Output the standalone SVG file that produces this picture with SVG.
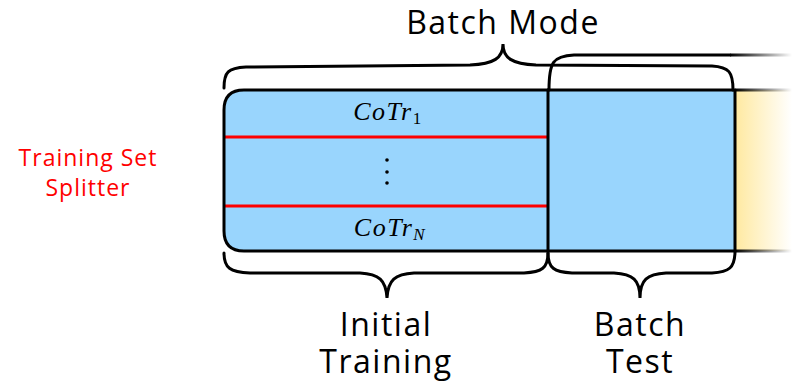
<svg xmlns="http://www.w3.org/2000/svg" width="792" height="390" viewBox="0 0 792 390">
  <defs>
    <linearGradient id="fadeFill" x1="735" y1="0" x2="792" y2="0" gradientUnits="userSpaceOnUse">
      <stop offset="0" stop-color="#ffe9a0"/>
      <stop offset="1" stop-color="#ffffff"/>
    </linearGradient>
    <linearGradient id="fadeLine" x1="735" y1="0" x2="792" y2="0" gradientUnits="userSpaceOnUse">
      <stop offset="0" stop-color="#000000"/>
      <stop offset="1" stop-color="#000000" stop-opacity="0"/>
    </linearGradient>
    <linearGradient id="fadeLineTop" x1="730" y1="0" x2="792" y2="0" gradientUnits="userSpaceOnUse">
      <stop offset="0" stop-color="#000000"/>
      <stop offset="1" stop-color="#000000" stop-opacity="0"/>
    </linearGradient>
    <style>
      .edge { fill: none; stroke: #000; stroke-width: 3; stroke-linecap: round; stroke-linejoin: round; }
      .brace { fill: none; stroke: #000; stroke-width: 3; stroke-linecap: round; }
      .split { stroke: #ff0000; stroke-width: 3; }
      .label { font-family: "Open Sans", "DejaVu Sans", sans-serif; font-size: 32px; letter-spacing: 1.5px; fill: #000; text-anchor: middle; }
      .note { font-family: "Open Sans", "DejaVu Sans", sans-serif; font-size: 23px; letter-spacing: 1px; fill: #ff0000; text-anchor: middle; }
      .math { font-family: "Liberation Serif", "DejaVu Serif", serif; font-style: italic; font-size: 26px; letter-spacing: 1.5px; fill: #000; text-anchor: middle; }
    </style>
  </defs>

  <!-- continuation of the stream to the right -->
  <g id="stream-tail">
    <rect x="735" y="90" width="57" height="161" fill="url(#fadeFill)"/>
    <line x1="735" y1="90" x2="792" y2="90" stroke="url(#fadeLine)" stroke-width="3"/>
    <line x1="735" y1="251" x2="792" y2="251" stroke="url(#fadeLine)" stroke-width="3"/>
  </g>

  <!-- initial training block, split into N parts -->
  <g id="initial-training">
    <path d="M548,90 L244,90 Q224,90 224,110 L224,231 Q224,251 244,251 L548,251 Z" fill="#99d5fd"/>
    <line class="split" x1="224" y1="137" x2="548" y2="137"/>
    <line class="split" x1="224" y1="206" x2="548" y2="206"/>
    <path class="edge" d="M548,90 L244,90 Q224,90 224,110 L224,231 Q224,251 244,251 L548,251"/>
    <text class="math" x="388" y="120">CoTr<tspan font-style="normal" font-size="17" dy="4">1</tspan></text>
    <circle cx="387" cy="160" r="1.8" fill="#000"/>
    <circle cx="387" cy="172" r="1.8" fill="#000"/>
    <circle cx="387" cy="183" r="1.8" fill="#000"/>
    <text class="math" x="390" y="236">CoTr<tspan font-size="17" dy="4">N</tspan></text>
  </g>

  <!-- batch test block -->
  <g id="batch-test">
    <rect x="548" y="90" width="187" height="161" fill="#99d5fd"/>
    <path class="edge" d="M548,90 L735,90 L735,251 L548,251"/>
    <line class="edge" x1="548" y1="90" x2="548" y2="251"/>
  </g>

  <!-- braces -->
  <g id="braces">
    <!-- Batch Mode -->
    <path class="brace" d="M224,88 C224,72 228,68 246,67 L470,65 C494,64 503,58 503,44 C503,58 512,64 536,65 L712,66 C729,67 733,72 733,90"/>
    <!-- next section, cut off at the right -->
    <path class="brace" d="M549,90 C549,62 553,56 574,55 L730,55"/>
    <line x1="730" y1="55" x2="792" y2="55" stroke="url(#fadeLineTop)" stroke-width="3"/>
    <!-- Initial Training -->
    <path class="brace" d="M224,253 C224,268 230,272 250,273 L360,273 C379,274 386,280 387,298 C388,280 395,274 414,273 L524,273 C542,272 548,268 548,253"/>
    <!-- Batch Test -->
    <path class="brace" d="M548,253 C548,268 554,272 572,273 L614,273 C633,274 640,280 640,298 C640,280 647,274 666,273 L712,273 C729,272 735,268 735,251"/>
  </g>

  <!-- labels -->
  <g id="labels">
    <text class="label" x="503" y="34">Batch Mode</text>
    <text class="label" x="386" y="336">Initial</text>
    <text class="label" x="386" y="373">Training</text>
    <text class="label" x="640" y="336">Batch</text>
    <text class="label" x="640" y="373">Test</text>
    <text class="note" x="88" y="166">Training Set</text>
    <text class="note" x="88" y="196">Splitter</text>
  </g>
</svg>
